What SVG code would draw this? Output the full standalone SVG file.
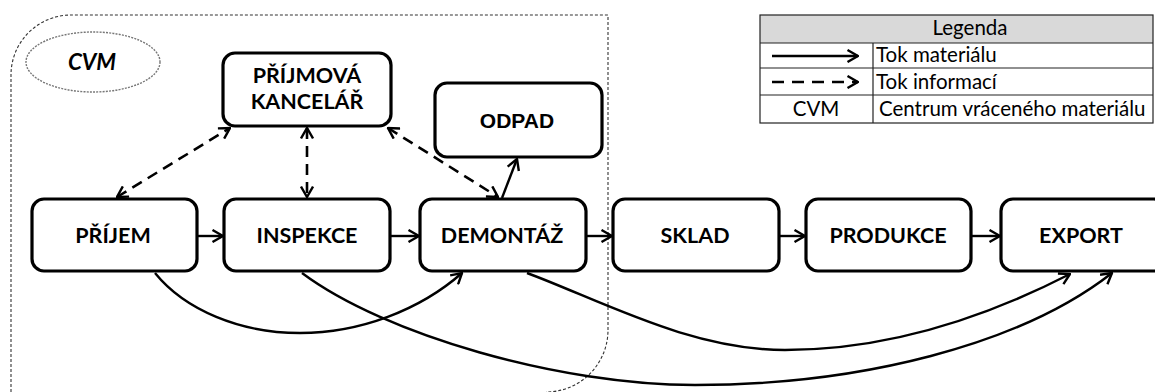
<svg xmlns="http://www.w3.org/2000/svg" width="1155" height="392" viewBox="0 0 1155 392">
  <style>
    .box { fill: #fff; stroke: #000; stroke-width: 3.2; }
    .lbl { font-family: Lato, "Liberation Sans", sans-serif; font-weight: bold; font-size: 21.5px; text-anchor: middle; fill: #000; }
    .flow { fill: none; stroke: #000; stroke-width: 2.4; }
    .info { fill: none; stroke: #000; stroke-width: 2.6; stroke-dasharray: 11 7; }
    .leg { font-family: Lato, "Liberation Sans", sans-serif; font-size: 20.5px; fill: #000; }
    .cell { fill: none; stroke: #222; stroke-width: 1.2; }
  </style>
  <defs>
    <marker id="ah" viewBox="0 0 13 14" refX="12" refY="7" markerWidth="13" markerHeight="14" markerUnits="userSpaceOnUse" orient="auto-start-reverse">
      <path d="M1.5,1 L12,7 L1.5,13" fill="none" stroke="#000" stroke-width="2.4" stroke-linejoin="miter"/>
    </marker>
  </defs>

  <rect width="1155" height="392" fill="#fff"/>

  <!-- returned-material centre boundary -->
  <path d="M11,392 V75 A60,60 0 0 1 71,15 H608 V330 A62,62 0 0 1 546,392" fill="none" stroke="#333" stroke-width="1.1" stroke-dasharray="3 2"/>

  <g id="cvm">
    <ellipse cx="93" cy="62" rx="67" ry="30" fill="none" stroke="#777" stroke-width="1.4" stroke-dasharray="2 1.2"/>
    <text x="92" y="70" font-family="Lato, 'Liberation Sans', sans-serif" font-weight="bold" font-style="italic" font-size="22.5" text-anchor="middle">CVM</text>
  </g>

  <g id="connectors">
    <!-- information flows -->
    <line class="info" x1="117" y1="197" x2="230" y2="128" marker-start="url(#ah)" marker-end="url(#ah)"/>
    <line class="info" x1="307" y1="128" x2="307" y2="197" marker-start="url(#ah)" marker-end="url(#ah)"/>
    <line class="info" x1="388" y1="128" x2="498" y2="197" marker-start="url(#ah)" marker-end="url(#ah)"/>
    <!-- material flows -->
    <line class="flow" x1="502" y1="198" x2="517" y2="159" marker-end="url(#ah)"/>
    <line class="flow" x1="198" y1="236" x2="223" y2="236" marker-end="url(#ah)"/>
    <line class="flow" x1="391" y1="236" x2="419" y2="236" marker-end="url(#ah)"/>
    <line class="flow" x1="587" y1="236" x2="612" y2="236" marker-end="url(#ah)"/>
    <line class="flow" x1="780" y1="236" x2="805" y2="236" marker-end="url(#ah)"/>
    <line class="flow" x1="972" y1="236" x2="1000" y2="236" marker-end="url(#ah)"/>
    <path class="flow" d="M155,273 C185,310 240,333 300,333 C360,333 420,310 462,273" marker-end="url(#ah)"/>
    <path class="flow" d="M302,273 C385,335 560,385 695,385 C860,385 1020,345 1112,273" marker-end="url(#ah)"/>
    <path class="flow" d="M527,273 C600,300 690,350 785,350 C900,350 1000,310 1070,274" marker-end="url(#ah)"/>
  </g>

  <g id="kancelar">
    <rect class="box" x="223" y="53" width="168" height="73" rx="12"/>
    <text class="lbl" x="307" y="83">PŘÍJMOVÁ</text>
    <text class="lbl" x="307" y="109">KANCELÁŘ</text>
  </g>
  <g id="odpad">
    <rect class="box" x="435" y="83" width="167" height="74" rx="12"/>
    <text x="517" y="128" font-family="'Liberation Sans', Arial, sans-serif" font-weight="bold" font-size="21" text-anchor="middle">ODPAD</text>
  </g>
  <g id="prijem">
    <rect class="box" x="32" y="199" width="165" height="72" rx="12"/>
    <text class="lbl" x="113" y="243">PŘÍJEM</text>
  </g>
  <g id="inspekce">
    <rect class="box" x="224" y="199" width="166" height="72" rx="12"/>
    <text class="lbl" x="307" y="243">INSPEKCE</text>
  </g>
  <g id="demontaz">
    <rect class="box" x="420" y="199" width="166" height="72" rx="12"/>
    <text class="lbl" x="502" y="243">DEMONTÁŽ</text>
  </g>
  <g id="sklad">
    <rect class="box" x="613" y="199" width="166" height="72" rx="12"/>
    <text class="lbl" x="695" y="243">SKLAD</text>
  </g>
  <g id="produkce">
    <rect class="box" x="806" y="199" width="165" height="72" rx="12"/>
    <text class="lbl" x="888" y="243">PRODUKCE</text>
  </g>
  <g id="export">
    <rect class="box" x="1001" y="199" width="165" height="72" rx="12"/>
    <text class="lbl" x="1081" y="243">EXPORT</text>
  </g>

  <g id="legend">
    <rect x="760" y="15" width="393" height="28" fill="#d9d9d9"/>
    <rect class="cell" x="760" y="15" width="393" height="108"/>
    <line class="cell" x1="760" y1="43" x2="1153" y2="43"/>
    <line class="cell" x1="760" y1="68" x2="1153" y2="68"/>
    <line class="cell" x1="760" y1="95" x2="1153" y2="95"/>
    <line class="cell" x1="873" y1="43" x2="873" y2="123"/>
    <text class="leg" x="970" y="35" text-anchor="middle">Legenda</text>
    <line class="flow" x1="772" y1="56" x2="858" y2="56" marker-end="url(#ah)"/>
    <line class="flow" x1="772" y1="82" x2="858" y2="82" stroke-dasharray="12 8" marker-end="url(#ah)"/>
    <text class="leg" x="876" y="62">Tok materiálu</text>
    <text class="leg" x="876" y="89">Tok informací</text>
    <text class="leg" x="816" y="116" text-anchor="middle">CVM</text>
    <text class="leg" x="879" y="116">Centrum vráceného materiálu</text>
  </g>
</svg>
